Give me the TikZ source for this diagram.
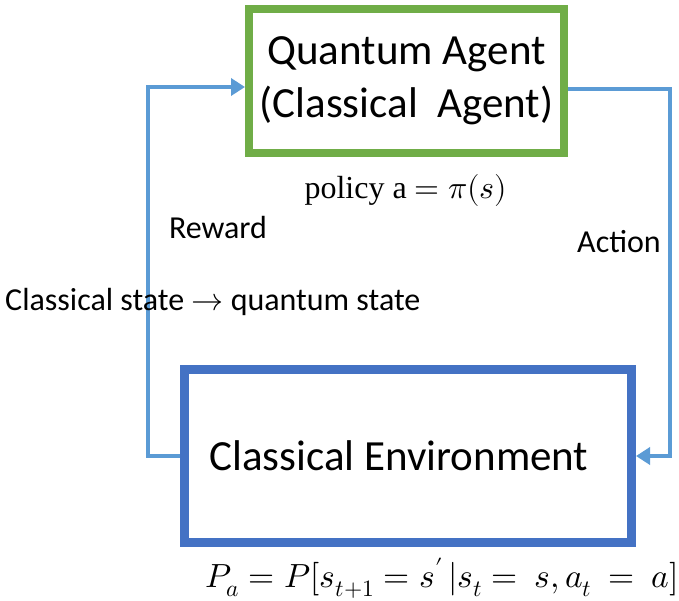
\documentclass[tikz,border=0pt]{standalone}
\usepackage{fontspec}
\usepackage{unicode-math}
\setmainfont{Carlito}
\setmathfont{Latin Modern Math}
\newfontfamily\serifpart{Liberation Serif}
\usetikzlibrary{arrows.meta,positioning,calc}
\definecolor{cgreen}{HTML}{70AD47}
\definecolor{cblue}{HTML}{4472C4}
\definecolor{clight}{HTML}{5B9BD5}

\begin{document}
\begin{tikzpicture}[
  x=1pt, y=-1pt,
  agentbox/.style={draw=cgreen, line width=8pt, fill=white, align=center,
                   minimum width=315pt, minimum height=144pt, inner sep=0pt,
                   font=\fontsize{43}{53}\selectfont},
  envbox/.style={draw=cblue, line width=9pt, fill=white, align=center,
                 minimum width=447pt, minimum height=173pt, inner sep=0pt,
                 font=\fontsize{43}{50}\selectfont},
  flow/.style={-{Triangle[length=14pt,width=17pt]}, line width=4pt, clight},
  lbl/.style={font=\fontsize{32}{36}\selectfont, inner sep=0pt},
]
\useasboundingbox (0,0) rectangle (679,600);
% ---------- the two boxes ----------
\node[agentbox] (agent) at (406.5,81) {Quantum Agent\\(Classical\ \ Agent)};
\node[envbox] (env) at (408,456) {Classical Environment\hspace*{18pt}};
% ---------- the loop ----------
\coordinate (lturn) at (148,87);
\coordinate (rturn) at (670,89);
\draw[flow] (env.west) -| (lturn) -- (lturn -| agent.west);
\draw[flow] (rturn -| agent.east) -- (rturn) |- (env.east);
% ---------- labels ----------
\node[lbl, font=\serifpart\fontsize{32}{36}\selectfont] (policy) at (406,190) {policy a $=\pi(s)$};
\node[lbl] (reward) at (218,228) {Reward};
\node[lbl] (action) at (619,242) {Action};
\node[lbl, anchor=west] (cq) at (5,302) {Classical state $\rightarrow$ quantum state};
\node[lbl, font=\fontsize{33.5}{40}\selectfont] (trans) at (442,578)
  {$P_a = P[s_{t+1} = s^{\prime}\,|s_t =\ s, a_t\ =\ a]$};
\end{tikzpicture}
\end{document}
